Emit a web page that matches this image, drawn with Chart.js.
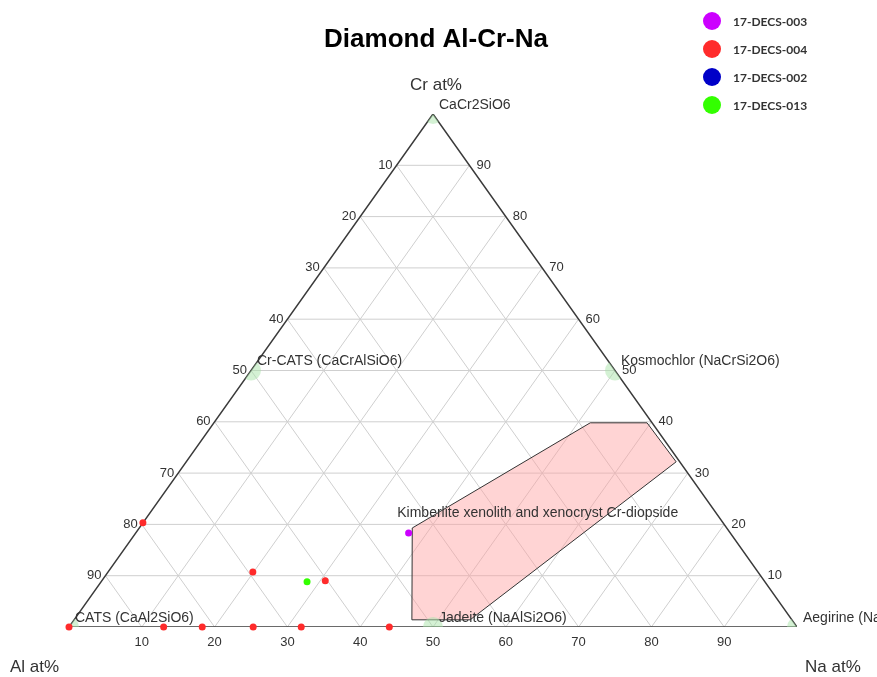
<!DOCTYPE html>
<html>
<head>
<meta charset="utf-8">
<title>Diamond Al-Cr-Na</title>
<script src="https://cdn.jsdelivr.net/npm/chart.js@4"></script>
<style>
    body { margin: 0; background: #fff; }
    canvas { display: block; }
</style>
</head>
<body>
<canvas id="ternary" width="877" height="677"></canvas>
<script>
// Tick values on each side of the triangle
const naTicks = [10, 20, 30, 40, 50, 60, 70, 80, 90];
const alTicks = [10, 20, 30, 40, 50, 60, 70, 80, 90];
const crTicks = [10, 20, 30, 40, 50, 60, 70, 80, 90];

// Samples (Na at%, Cr at%; Al is the rest)
const decs003Na = [37.5];
const decs003Cr = [18.3];
const decs004Na = [0, 0, 19.9, 30.7, 13.0, 18.3, 25.3, 31.9, 44.0];
const decs004Cr = [0, 20.3, 10.7, 9.0, 0, 0, 0, 0, 0];
const decs002Na = [];
const decs002Cr = [];
const decs013Na = [28.3];
const decs013Cr = [8.8];

// End members
const endNames = ['CaCr2SiO6', 'Cr-CATS (CaCrAlSiO6)', 'Kosmochlor (NaCrSi2O6)', 'Jadeite (NaAlSi2O6)', 'Aegirine (NaFeSi2O6)', 'CATS (CaAl2SiO6)'];
const endNa = [0, 0, 50, 50, 100, 0];
const endCr = [100, 50, 50, 0, 0, 0];

// Kimberlite xenolith / xenocryst Cr-diopside field
const zoneName = 'Kimberlite xenolith and xenocryst Cr-diopside';
const zoneNa = [37.5, 46.4, 54.4, 67.3, 59.5, 51.7, 37.5];
const zoneCr = [19.3, 1.4, 1.4, 32.2, 39.8, 39.8, 19.3];

// ternary -> plot coords
function toXY(na, cr) {
    return { x: na + cr / 2, y: cr };
}
function pts(naArr, crArr) {
    return naArr.map((n, i) => toXY(n, crArr[i]));
}

const gridColor = '#cfcfcf';
const datasets = [];

// grid lines
crTicks.forEach(c => {
    datasets.push({ data: [toXY(0, c), toXY(100 - c, c)], order: 20 });
});
naTicks.forEach(n => {
    datasets.push({ data: [toXY(n, 0), toXY(n, 100 - n)], order: 20 });
});
alTicks.forEach(a => {
    datasets.push({ data: [toXY(100 - a, 0), toXY(0, 100 - a)], order: 20 });
});
datasets.forEach(d => {
    d.showLine = true;
    d.borderColor = gridColor;
    d.borderWidth = 1;
    d.pointRadius = 0;
});

// triangle outline
datasets.push({
    data: [toXY(0, 0), toXY(100, 0), toXY(0, 100), toXY(0, 0)],
    showLine: true, borderColor: '#3a3a3a', borderWidth: 1.5, pointRadius: 0,
    order: 15
});

// cr-diopside field
datasets.push({
    data: pts(zoneNa, zoneCr),
    showLine: true, fill: 'shape',
    backgroundColor: 'rgba(255, 160, 160, 0.45)',
    borderColor: '#333', borderWidth: 1, pointRadius: 0,
    order: 12
});

// end member markers (clipped to the triangle, see plugin)
datasets.push({
    data: pts(endNa, endCr),
    pointRadius: 10, pointBackgroundColor: 'rgba(170, 228, 170, 0.5)',
    pointBorderWidth: 0, order: 10, clip: false, clipTriangle: true
});

// samples
const samples = [
    { label: '17-DECS-003', na: decs003Na, cr: decs003Cr, color: '#cc00ff' },
    { label: '17-DECS-004', na: decs004Na, cr: decs004Cr, color: '#ff2b2b' },
    { label: '17-DECS-002', na: decs002Na, cr: decs002Cr, color: '#0000c8' },
    { label: '17-DECS-013', na: decs013Na, cr: decs013Cr, color: '#33ff00' }
];
samples.forEach(s => {
    datasets.push({
        label: s.label,
        data: pts(s.na, s.cr),
        pointRadius: 3.5, pointBackgroundColor: s.color, pointBorderWidth: 0,
        order: 1, clip: false
    });
});

const labelFont = '"Liberation Sans", Arial, sans-serif';

function pixel(chart, na, cr) {
    const p = toXY(na, cr);
    return [chart.scales.x.getPixelForValue(p.x), chart.scales.y.getPixelForValue(p.y)];
}

// clip the end member circles to the triangle
const triangleClip = {
    id: 'triangleClip',
    beforeDatasetDraw(chart, args) {
        if (!chart.data.datasets[args.index].clipTriangle) return;
        const ctx = chart.ctx;
        const a = pixel(chart, 0, 0), b = pixel(chart, 100, 0), c = pixel(chart, 0, 100);
        ctx.save();
        ctx.beginPath();
        ctx.moveTo(a[0], a[1]);
        ctx.lineTo(b[0], b[1]);
        ctx.lineTo(c[0], c[1]);
        ctx.closePath();
        ctx.clip();
    },
    afterDatasetDraw(chart, args) {
        if (chart.data.datasets[args.index].clipTriangle) chart.ctx.restore();
    }
};

const ternaryText = {
    id: 'ternaryText',
    afterDraw(chart) {
        const ctx = chart.ctx;
        const px = (na, cr) => pixel(chart, na, cr);
        ctx.save();

        // title
        ctx.fillStyle = '#000';
        ctx.font = 'bold 26px ' + labelFont;
        ctx.textAlign = 'center';
        ctx.textBaseline = 'middle';
        ctx.fillText('Diamond Al-Cr-Na', 436, 40);

        // axis titles
        ctx.fillStyle = '#333';
        ctx.font = '17px ' + labelFont;
        const top = px(0, 100);
        ctx.fillText('Cr at%', top[0] + 3, top[1] - 29);
        ctx.textAlign = 'left';
        ctx.fillText('Al at%', 10, 667);
        ctx.fillText('Na at%', 805, 667);

        // tick labels
        ctx.font = '13px ' + labelFont;
        ctx.textAlign = 'center';
        naTicks.forEach(n => {
            const p = px(n, 0);
            ctx.fillText(String(n), p[0], p[1] + 15);
        });
        ctx.textAlign = 'right';
        alTicks.forEach(a => {
            const p = px(0, 100 - a);
            ctx.fillText(String(a), p[0] - 4, p[1]);
        });
        ctx.textAlign = 'left';
        crTicks.forEach(c => {
            const p = px(100 - c, c);
            ctx.fillText(String(c), p[0] + 7, p[1]);
        });

        // end member names
        ctx.font = '14px ' + labelFont;
        endNames.forEach((name, i) => {
            const p = px(endNa[i], endCr[i]);
            ctx.fillText(name, p[0] + 6, p[1] - 9);
        });

        // field name
        const z = px(zoneNa[0], zoneCr[0]);
        ctx.fillText(zoneName, z[0] - 15, z[1] - 15);

        // legend
        ctx.font = 'bold 12px Lato, "Open Sans", sans-serif';
        samples.forEach((s, i) => {
            const y = 21 + i * 28;
            ctx.beginPath();
            ctx.arc(712, y, 9, 0, Math.PI * 2);
            ctx.fillStyle = s.color;
            ctx.fill();
            ctx.fillStyle = '#333';
            ctx.fillText(s.label, 733, y + 1);
        });
        ctx.restore();
    }
};

new Chart(document.getElementById('ternary'), {
    type: 'scatter',
    data: { datasets: datasets },
    options: {
        responsive: false,
        animation: false,
        layout: { padding: { left: 69, right: 80, top: 114, bottom: 50 } },
        scales: {
            x: { type: 'linear', min: 0, max: 100, display: false },
            y: { type: 'linear', min: 0, max: 100, display: false }
        },
        plugins: {
            legend: { display: false },
            tooltip: { enabled: false }
        }
    },
    plugins: [triangleClip, ternaryText]
});
</script>
</body>
</html>
